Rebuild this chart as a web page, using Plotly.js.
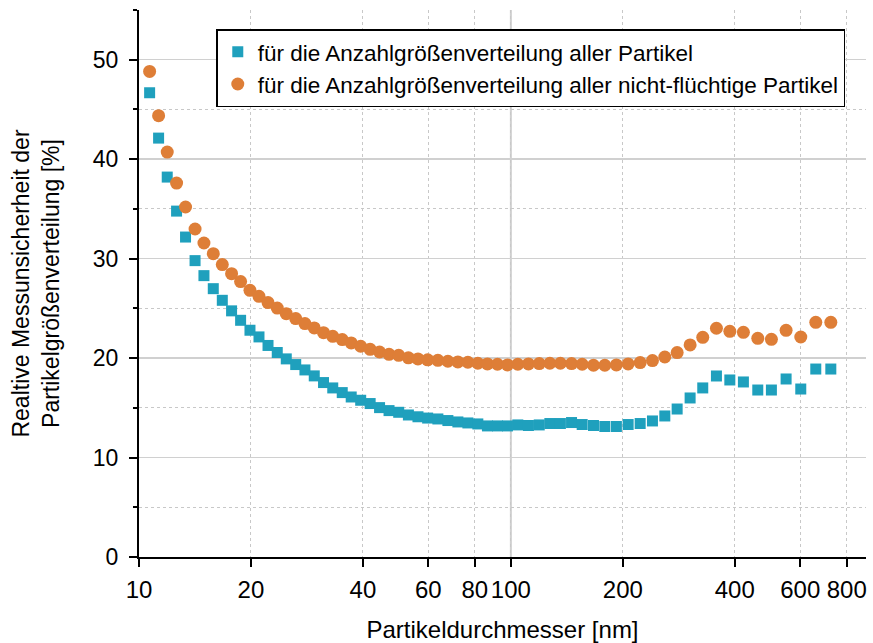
<!DOCTYPE html>
<html>
<head>
<meta charset="utf-8">
<script src="https://cdn.plot.ly/plotly-3.0.1.min.js"></script>
<style>html,body{margin:0;padding:0;background:#fff}#chart{width:873px;height:643px}</style>
</head>
<body>
<div id="chart"></div>
<script>
// Particle diameter [nm]
const diameter = [10.68, 11.29, 11.91, 12.62, 13.34, 14.15, 14.95, 15.84, 16.75, 17.74,
  18.76, 19.88, 21.02, 22.23, 23.54, 24.89, 26.39, 27.94, 29.60, 31.35,
  33.19, 35.20, 37.21, 39.46, 41.84, 44.35, 47.03, 49.93, 53.02, 56.26,
  59.73, 63.64, 67.71, 72.03, 76.63, 81.50, 86.49, 92.04, 97.92, 104.4,
  111.5, 119.2, 127.3, 135.9, 145.6, 155.5, 166.8, 178.9, 192.2, 206.7,
  222.7, 240.3, 259.4, 280.0, 303.4, 328.1, 357.1, 388.0, 422.0, 461.3,
  501.9, 549.7, 602.0, 660.6, 725.1];

// Relative uncertainty [%] – all particles
const allParticles = [46.68, 42.12, 38.20, 34.78, 32.17, 29.80, 28.29, 26.98, 25.81, 24.75,
  23.80, 22.80, 22.13, 21.27, 20.56, 19.92, 19.35, 18.81, 18.21, 17.54,
  17.00, 16.53, 16.09, 15.76, 15.43, 15.02, 14.72, 14.55, 14.28, 14.10,
  13.97, 13.88, 13.72, 13.58, 13.48, 13.38, 13.18, 13.18, 13.18, 13.28,
  13.22, 13.28, 13.42, 13.42, 13.52, 13.32, 13.22, 13.12, 13.12, 13.32,
  13.42, 13.68, 14.18, 14.88, 15.99, 17.00, 18.20, 17.80, 17.60, 16.79,
  16.79, 17.90, 16.89, 18.90, 18.90];

// Relative uncertainty [%] – non-volatile particles
const nonVolatile = [48.82, 44.37, 40.71, 37.60, 35.19, 32.98, 31.57, 30.50, 29.40, 28.49,
  27.69, 26.81, 26.21, 25.58, 25.03, 24.47, 23.97, 23.47, 23.03, 22.56,
  22.19, 21.86, 21.52, 21.19, 20.88, 20.61, 20.38, 20.28, 20.03, 19.92,
  19.83, 19.78, 19.68, 19.61, 19.58, 19.48, 19.41, 19.38, 19.31, 19.38,
  19.41, 19.45, 19.48, 19.48, 19.45, 19.38, 19.28, 19.28, 19.31, 19.41,
  19.55, 19.75, 20.11, 20.55, 21.32, 22.09, 23.00, 22.69, 22.59, 21.99,
  21.89, 22.79, 22.12, 23.60, 23.60];

const seriesNames = [
  "für die Anzahlgrößenverteilung aller Partikel",
  "für die Anzahlgrößenverteilung aller nicht-flüchtige Partikel"
];

const xTickVals = [10, 20, 40, 60, 80, 100, 200, 400, 600, 800];
const xTickText = ["10", "20", "40", "60", "80", "100", "200", "400", "600", "800"];

const FONT = "Liberation Sans, Arial, sans-serif";

const traces = [
  {
    x: diameter, y: allParticles, name: seriesNames[0],
    type: "scatter", mode: "markers",
    marker: {symbol: "square", size: 11, color: "#1fa0bd", line: {width: 0}}
  },
  {
    x: diameter, y: nonVolatile, name: seriesNames[1],
    type: "scatter", mode: "markers",
    marker: {symbol: "circle", size: 13, color: "#de7e37", line: {width: 0}}
  }
];

const layout = {
  width: 873, height: 643,
  margin: {l: 139, r: 7, t: 10, b: 86},
  paper_bgcolor: "#ffffff", plot_bgcolor: "#ffffff",
  font: {family: FONT, size: 23, color: "#000"},
  showlegend: true,
  legend: {
    x: 0.1063, y: 0.965, xanchor: "left", yanchor: "top",
    bgcolor: "#ffffff", bordercolor: "#000", borderwidth: 1.5,
    font: {family: FONT, size: 22.5, color: "#000"},
    tracegroupgap: 0
  },
  xaxis: {
    type: "log", range: [1, 2.955],
    tickmode: "array", tickvals: xTickVals, ticktext: xTickText,
    ticks: "outside", ticklen: 8, tickwidth: 2, tickcolor: "#000",
    showline: true, linecolor: "#000", linewidth: 2,
    showgrid: true, gridcolor: "#c8c8c8", gridwidth: 1, griddash: "dot",
    zeroline: false,
    ticklabelstandoff: 2,
    tickfont: {family: FONT, size: 24},
    title: {text: "Partikeldurchmesser [nm]", font: {family: FONT, size: 24}, standoff: 20}
  },
  yaxis: {
    range: [0, 55], dtick: 10, tick0: 0,
    ticks: "outside", ticklen: 8, tickwidth: 2, tickcolor: "#000",
    showline: true, linecolor: "#000", linewidth: 2,
    showgrid: true, gridcolor: "#d0d0d0", gridwidth: 1.5,
    zeroline: false,
    ticklabelstandoff: 6,
    tickfont: {family: FONT, size: 23},
    minor: {dtick: 5, tick0: 0, ticks: "outside", ticklen: 4, tickwidth: 2, tickcolor: "#000",
            showgrid: true, gridcolor: "#c8c8c8", gridwidth: 1, griddash: "dot"},
    title: {text: "Realtive Messunsicherheit der<br>Partikelgrößenverteilung [%]",
            font: {family: FONT, size: 23}, standoff: 27}
  },
  shapes: [
    {type: "line", xref: "x", yref: "paper", x0: 100, x1: 100, y0: 0, y1: 1,
     layer: "below", line: {color: "#d0d0d0", width: 2}}
  ]
};

Plotly.newPlot("chart", traces, layout, {displayModeBar: false, staticPlot: true});
</script>
</body>
</html>
